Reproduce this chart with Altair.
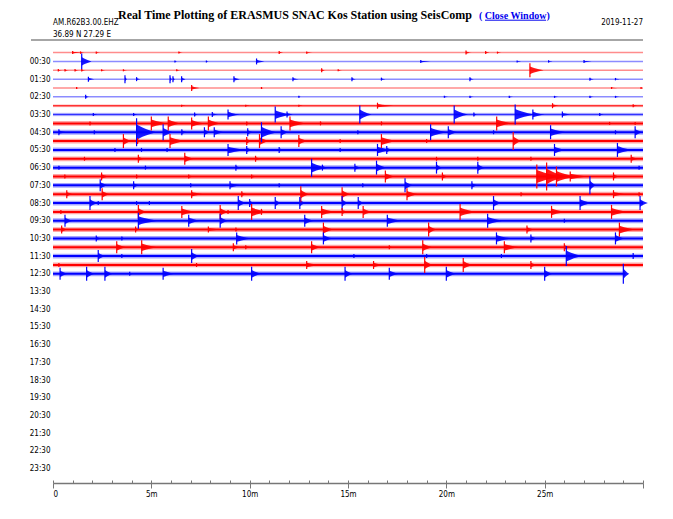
import altair as alt
import pandas as pd

# ---------------- header texts ----------------
title_text = ["Real Time Plotting of ERASMUS SNAC Kos Station using SeisComp"]
link_text = ["( Close Window)"]
station_text = ["AM.R62B3.00.EHZ"]
coord_text = ["36.89 N 27.29 E"]
date_text = ["2019-11-27"]

# ---------------- rows (half-hour traces) ----------------
row_times = ["00:00", "00:30", "01:00", "01:30", "02:00", "02:30", "03:00", "03:30",
             "04:00", "04:30", "05:00", "05:30", "06:00", "06:30", "07:00", "07:30",
             "08:00", "08:30", "09:00", "09:30", "10:00", "10:30", "11:00", "11:30",
             "12:00", "12:30"]
row_noise = [1, 1, 1, 1, 1, 1, 1.2, 1.5,
             2, 2, 2, 2, 2, 2, 2, 2,
             2, 2, 2, 2, 2, 2, 2, 2,
             2, 2]
row_end = [30] * 25 + [29.1]

# events per row: (minute, amplitude, duration in minutes)
ev_0000 = [(1.0, 1.5, 0.5), (1.4, 1.2, 0.2), (2.2, 1.2, 0.2), (6.4, 1, 0.2), (11.5, 1.5, 0.2),
           (12.9, 1.2, 0.3), (21.0, 2, 0.3), (22.0, 1.5, 0.2), (22.6, 1, 0.2)]
ev_0030 = [(1.46, 8, 0.5), (6.2, 1, 0.1), (7.8, 1, 0.1), (10.35, 3, 0.4), (18.7, 1.5, 0.5),
           (23.6, 1, 0.2), (25.2, 1.2, 0.2), (27.0, 1.5, 0.4)]
ev_0100 = [(0.27, 1.2, 0.2), (0.61, 1.2, 0.2), (1.12, 1.2, 0.2), (1.46, 1.2, 0.2), (2.47, 1, 0.2),
           (3.58, 1, 0.2), (6.29, 1, 0.2), (13.66, 2, 0.2), (14.5, 1, 0.2), (24.25, 7, 0.7)]
ev_0130 = [(1.8, 2.5, 0.3), (3.66, 4, 0.1), (4.25, 2, 0.2), (5.95, 4, 0.1), (6.1, 3, 0.1),
           (6.54, 3, 0.2), (9.2, 3, 0.3), (12.2, 2, 0.3), (15.2, 2, 0.2), (16.7, 1.5, 0.2),
           (21.2, 2, 0.2), (27.3, 1.5, 0.2), (28.6, 1.2, 0.2)]
ev_0200 = [(1.2, 1, 0.1), (7.05, 3, 0.4), (10.6, 1, 0.1), (28.4, 1, 0.3), (29.9, 1, 0.1)]
ev_0230 = [(1.66, 2, 0.2), (12.5, 1, 0.1), (19.9, 1, 0.2), (21.2, 1.2, 0.2), (23.2, 1.2, 0.2),
           (25.5, 1, 0.2), (27.3, 1.2, 0.2), (28.6, 1, 0.2)]
ev_0300 = [(6.54, 1, 0.2), (9.8, 1, 0.2), (12.5, 1, 0.2), (16.5, 3, 0.8), (25.4, 2.5, 0.3),
           (29.5, 1.5, 0.2)]
ev_0330 = [(2.05, 1.5, 0.2), (4.1, 1.5, 0.2), (7.2, 2, 0.2), (8.1, 2.5, 0.3), (8.9, 5, 0.6),
           (11.3, 8, 0.8), (11.9, 3, 0.3), (15.6, 9, 0.6), (20.4, 9, 0.7), (21.4, 2, 0.2),
           (23.5, 10, 1.0), (24.4, 5, 0.6), (25.9, 3, 0.4), (27.8, 1.5, 0.2)]
ev_0400 = [(1.88, 2, 0.2), (5.0, 7, 0.8), (5.86, 7, 0.6), (7.05, 6, 0.7), (7.9, 7, 0.6),
           (9.85, 2, 0.2), (12.05, 7, 0.8), (13.6, 2, 0.2), (16.7, 2, 0.2), (22.56, 7, 0.8),
           (28.3, 1.5, 0.2), (29.6, 1.5, 0.2)]
ev_0430 = [(0.3, 3, 0.4), (2.1, 2, 0.2), (4.25, 14, 1.0), (5.6, 8, 0.5), (6.55, 3, 0.3),
           (7.7, 5, 0.3), (8.2, 5, 0.5), (9.9, 4, 0.3), (10.6, 10, 0.8), (11.6, 6, 0.4),
           (15.5, 2, 0.2), (19.2, 8, 0.8), (20.1, 6, 0.5), (22.4, 2, 0.2), (25.3, 7, 0.8),
           (28.6, 2, 0.2), (29.6, 6, 0.4)]
ev_0500 = [(3.58, 7, 0.4), (4.3, 3, 0.3), (5.95, 7, 0.8), (9.85, 4, 0.3), (10.5, 7, 0.5),
           (12.5, 6, 0.5), (14.6, 2, 0.2), (16.7, 7, 0.8), (19.0, 2, 0.2), (23.4, 9, 0.4)]
ev_0530 = [(3.15, 2, 0.2), (4.5, 2, 0.2), (5.8, 2, 0.2), (8.9, 6, 1.0), (9.85, 4, 0.3),
           (11.5, 3, 0.3), (14.6, 2, 0.2), (16.5, 6, 0.8), (16.97, 4, 0.3), (25.5, 6, 0.6),
           (28.7, 7, 0.8)]
ev_0600 = [(1.6, 2, 0.2), (4.34, 4, 0.3), (6.7, 6, 0.5), (10.3, 3, 0.3), (19.5, 2, 0.2),
           (21.6, 2, 0.2), (24.3, 2, 0.2), (29.4, 4, 0.4)]
ev_0630 = [(0.3, 2, 0.2), (4.7, 2, 0.2), (9.3, 3, 0.3), (13.15, 9, 0.8), (13.7, 3, 0.3),
           (15.35, 4, 0.3), (16.45, 7, 0.5), (19.5, 6, 0.3), (21.6, 6, 0.4), (29.8, 2, 0.2)]
ev_0700 = [(0.6, 2, 0.2), (2.47, 4, 0.4), (4.25, 2, 0.2), (6.9, 2, 0.3), (10.1, 2, 0.3),
           (16.9, 6, 0.5), (19.8, 4, 0.3), (24.6, 12, 1.2), (25.1, 14, 1.0), (25.6, 10, 1.0),
           (26.3, 5, 0.9), (28.5, 4, 0.3)]
ev_0730 = [(2.4, 6, 0.4), (4.1, 4, 0.3), (7.0, 2, 0.2), (9.0, 4, 0.6), (11.5, 2, 0.2),
           (15.75, 2, 0.2), (17.9, 7, 0.4), (21.3, 4, 0.3), (27.3, 9, 0.3)]
ev_0800 = [(0.7, 4, 0.3), (2.5, 6, 0.4), (7.05, 4, 0.6), (9.6, 3, 0.3), (12.6, 8, 0.4),
           (14.7, 7, 0.4), (18.0, 6, 0.6), (23.8, 2, 0.2), (28.5, 4, 0.6), (29.8, 2, 0.2)]
ev_0830 = [(1.88, 7, 0.4), (2.3, 2, 0.2), (4.25, 2, 0.2), (4.9, 2, 0.2), (9.42, 7, 0.4),
           (10.0, 4, 0.3), (11.3, 6, 0.3), (12.55, 6, 0.3), (14.7, 7, 0.3), (15.52, 6, 0.3),
           (22.4, 7, 0.4), (26.8, 7, 0.6), (29.85, 7, 0.4)]
ev_0900 = [(0.4, 2, 0.2), (4.34, 7, 0.4), (6.55, 6, 0.8), (8.5, 7, 0.4), (8.9, 2, 0.2),
           (10.1, 8, 0.8), (10.6, 3, 0.3), (13.66, 6, 0.8), (14.7, 4, 0.3), (15.77, 6, 0.5),
           (20.7, 8, 0.8), (25.35, 6, 0.8), (28.4, 7, 0.8)]
ev_0930 = [(0.61, 6, 0.4), (4.34, 8, 1.0), (6.9, 6, 0.6), (8.5, 7, 0.4), (12.8, 6, 0.5),
           (17.0, 6, 0.8), (22.1, 7, 0.8), (26.0, 2, 0.2)]
ev_1000 = [(0.44, 4, 0.3), (4.2, 3, 0.2), (7.9, 3, 0.6), (9.3, 2, 0.2), (13.75, 7, 0.5),
           (19.1, 7, 0.4), (24.1, 4, 0.4), (28.8, 7, 0.8)]
ev_1030 = [(2.2, 3, 0.3), (3.5, 2, 0.2), (9.34, 6, 0.8), (13.75, 6, 0.5), (22.55, 6, 0.8),
           (24.3, 4, 0.3), (28.6, 6, 0.5)]
ev_1100 = [(3.24, 6, 0.5), (4.51, 7, 0.8), (9.17, 4, 0.4), (9.8, 2, 0.3), (13.15, 6, 0.5),
           (17.1, 2, 0.2), (18.8, 7, 0.5), (22.95, 6, 0.8), (26.0, 4, 0.4)]
ev_1130 = [(2.3, 6, 0.4), (3.5, 2, 0.2), (7.05, 7, 0.4), (15.3, 2, 0.2), (19.0, 2, 0.2),
           (22.8, 2, 0.2), (26.1, 10, 0.8), (29.5, 3, 0.2)]
ev_1200 = [(0.3, 2, 0.2), (7.3, 2, 0.3), (12.9, 4, 0.8), (16.3, 4, 0.6), (18.9, 8, 0.4),
           (20.86, 7, 0.5), (24.3, 4, 0.4)]
ev_1230 = [(0.36, 6, 0.4), (1.71, 7, 0.4), (2.64, 7, 0.4), (3.9, 2, 0.2), (5.6, 6, 0.6),
           (10.1, 7, 0.5), (14.85, 7, 0.4), (17.1, 6, 0.5), (20.0, 7, 0.5), (25.0, 7, 0.4),
           (29.0, 10, 0.3)]

row_events = [ev_0000, ev_0030, ev_0100, ev_0130, ev_0200, ev_0230, ev_0300, ev_0330,
              ev_0400, ev_0430, ev_0500, ev_0530, ev_0600, ev_0630, ev_0700, ev_0730,
              ev_0800, ev_0830, ev_0900, ev_0930, ev_1000, ev_1030, ev_1100, ev_1130,
              ev_1200, ev_1230]

# axis tick values
x_minor = list(range(0, 31))
x_major = [0, 5, 10, 15, 20, 25, 30]
y_label_hours = [h + 0.5 for h in range(24)]

# ---------------- layout constants ----------------
W, H = 590, 439
Y_DOMAIN = [-0.486, 24.32]
PX_PER_HOUR = H / (Y_DOMAIN[1] - Y_DOMAIN[0])
SMALL_FONT = "DejaVu Sans Condensed, Liberation Sans Narrow, Liberation Sans, sans-serif"

# ---------------- build tables ----------------
def to_hour(t):
    hh, mm = t.split(":")
    return int(hh) + int(mm) / 60.0

rows_df = pd.DataFrame({
    "time": row_times,
    "hour": [to_hour(t) for t in row_times],
    "phase": [t.split(":")[1] for t in row_times],
    "start": 0.0,
    "end": row_end,
    "noise": row_noise,
})
rows_df["core"] = rows_df["noise"].map(lambda n: 1.5 if n <= 1 else (1.6 if n < 2 else 2.0))
rows_df["halo"] = rows_df["noise"] * 2.4
rows_df["alpha"] = rows_df["noise"].map(lambda n: 0.45 if n <= 1 else (0.75 if n < 2 else 1.0))
rows_df["halo_alpha"] = rows_df["noise"].map(lambda n: 0.0 if n <= 1 else (0.2 if n < 2 else 0.35))

ev_records = []
coda_records = []
eid = 0
for t, evs in zip(row_times, row_events):
    h = to_hour(t)
    ph = t.split(":")[1]
    for m, a, d in evs:
        ev_records.append({"hour": h, "phase": ph, "minute": m, "amp": a, "dur": d})
        ca = 0.55 * a / PX_PER_HOUR
        coda_records.append({"eid": eid, "phase": ph, "x": m, "lo": h - ca, "hi": h + ca})
        coda_records.append({"eid": eid, "phase": ph, "x": m + 0.3 * d,
                             "lo": h - 0.6 * ca, "hi": h + 0.6 * ca})
        coda_records.append({"eid": eid, "phase": ph, "x": m + d, "lo": h, "hi": h})
        eid += 1
ev_df = pd.DataFrame(ev_records)
ev_df["y1"] = ev_df["hour"] - ev_df["amp"] / PX_PER_HOUR
ev_df["y2"] = ev_df["hour"] + ev_df["amp"] / PX_PER_HOUR
coda_df = pd.DataFrame(coda_records)

color = alt.Color("phase:N", scale=alt.Scale(domain=["00", "30"], range=["#ff0000", "#0000ff"]),
                  legend=None)
xscale = alt.Scale(domain=[0, 30], nice=False, zero=False)
yscale = alt.Scale(domain=Y_DOMAIN, reverse=True, nice=False, zero=False)

x_major_axis = alt.Axis(
    values=x_major, tickSize=5, grid=False, title=None,
    labelExpr="datum.value == 0 ? '0' : (datum.value >= 30 ? '' : datum.value + 'm')",
    labelFont=SMALL_FONT, labelFontSize=8, labelColor="#000", labelPadding=2,
    domainColor="#777", domainWidth=1.5, tickColor="#777", tickWidth=1, orient="bottom",
)
x_minor_axis = alt.Axis(
    values=x_minor, tickSize=3, grid=False, title=None, labels=False, domain=False,
    tickColor="#777", tickWidth=1, offset=-3, orient="bottom",
)
y_axis = alt.Axis(
    values=y_label_hours, ticks=False, domain=False, grid=False, title=None,
    labelExpr="(floor(datum.value) < 10 ? '0' : '') + floor(datum.value) + ':30'",
    labelFont=SMALL_FONT, labelFontSize=8, labelColor="#000", labelPadding=3,
)

halo = alt.Chart(rows_df).mark_rule().encode(
    x=alt.X("start:Q", scale=xscale, axis=x_minor_axis),
    x2="end:Q",
    y=alt.Y("hour:Q", scale=yscale, axis=y_axis),
    color=color,
    strokeWidth=alt.StrokeWidth("halo:Q", scale=None),
    opacity=alt.Opacity("halo_alpha:Q", scale=None),
)
core = alt.Chart(rows_df).mark_rule().encode(
    x=alt.X("start:Q", scale=xscale, axis=x_major_axis),
    x2="end:Q",
    y=alt.Y("hour:Q", scale=yscale, axis=None),
    color=color,
    strokeWidth=alt.StrokeWidth("core:Q", scale=None),
    opacity=alt.Opacity("alpha:Q", scale=None),
)
coda = alt.Chart(coda_df).mark_area(opacity=0.9, interpolate="monotone").encode(
    x=alt.X("x:Q", scale=xscale, axis=None),
    y=alt.Y("lo:Q", scale=yscale, axis=None),
    y2="hi:Q",
    detail="eid:N",
    color=color,
)
spikes = alt.Chart(ev_df).mark_rule(strokeWidth=1.2).encode(
    x=alt.X("minute:Q", scale=xscale, axis=None),
    y=alt.Y("y1:Q", scale=yscale, axis=None),
    y2="y2:Q",
    color=color,
)

def label(text, x, y, **kw):
    return alt.Chart(pd.DataFrame({"t": text})).mark_text(**kw).encode(
        text="t:N", x=alt.value(x), y=alt.value(y)
    )

title = label(title_text, 242, -25.2, font="Liberation Serif", fontSize=12, fontWeight="bold",
              align="center", baseline="alphabetic", color="#000")
link = label(link_text, 426, -25.2, font="Liberation Serif", fontSize=10, fontWeight="bold",
             align="left", baseline="alphabetic", color="#0000ee")
underline = alt.Chart(pd.DataFrame({"t": link_text})).mark_rule(color="#0000ee", strokeWidth=1).encode(
    x=alt.value(432), x2=alt.value(493), y=alt.value(-23.8)
)
station = label(station_text, 0, -21, font=SMALL_FONT, fontSize=8, align="left",
                baseline="middle", color="#000")
coords = label(coord_text, 0, -9.5, font=SMALL_FONT, fontSize=8, align="left",
               baseline="middle", color="#000")
date = label(date_text, 590, -21, font=SMALL_FONT, fontSize=8, align="right",
             baseline="middle", color="#000")
topline = alt.Chart(pd.DataFrame({"t": date_text})).mark_rule(color="#888", strokeWidth=1.5).encode(
    x=alt.value(-22), x2=alt.value(590), y=alt.value(-4)
)

chart = alt.layer(
    halo, core, coda, spikes, title, link, underline, station, coords, date, topline
).resolve_axis(x="independent", y="independent").properties(
    width=W, height=H,
    autosize=alt.AutoSizeParams(type="none"),
    padding={"left": 45, "top": 36, "right": 20, "bottom": 30},
).configure_view(stroke=None)

chart.save("out.html", embed_options={"renderer": "svg", "actions": False})
